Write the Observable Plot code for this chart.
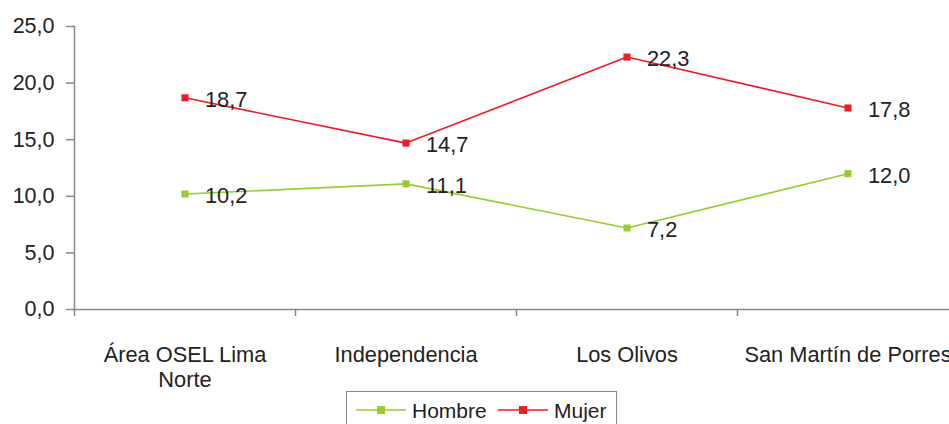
<!DOCTYPE html>
<html>
<head>
<meta charset="utf-8">
<script src="https://cdn.jsdelivr.net/npm/d3@7"></script>
<script src="https://cdn.jsdelivr.net/npm/@observablehq/plot@0.6"></script>
<style>
  html, body { margin: 0; padding: 0; background: #fff; overflow: hidden; width: 949px; height: 424px; }
  #chart svg { overflow: hidden; max-width: none; }
  #legend { position: absolute; left: 346px; top: 391px; width: 271px; height: 40px; border: 1px solid #888; box-sizing: border-box;
            font-family: "Liberation Sans", Arial, sans-serif; font-size: 21px; color: #222; }
</style>
</head>
<body>
<div id="chart"></div>
<div id="legend"></div>
<script>
const categories = ["Área OSEL Lima\nNorte", "Independencia", "Los Olivos", "San Martín de Porres"];
const series = ["Hombre", "Mujer"];
const colors = ["#99cc33", "#ee1c25"];
const hombre = [10.2, 11.1, 7.2, 12.0];
const mujer = [18.7, 14.7, 22.3, 17.8];
const yTicks = [0, 5, 10, 15, 20, 25];

const data = [];
categories.forEach((c, i) => {
  data.push({cat: c, serie: "Hombre", value: hombre[i]});
  data.push({cat: c, serie: "Mujer", value: mujer[i]});
});
const fmt = d => d.toFixed(1).replace(".", ",");
const font = "Liberation Sans, Arial, sans-serif";

const chart = Plot.plot({
  width: 949,
  height: 391,
  marginLeft: 74,
  marginRight: -9,
  marginTop: 26,
  marginBottom: 82,
  style: {fontFamily: font, fontSize: "21.5px", color: "#222", background: "#fff"},
  x: {type: "band", domain: categories, padding: 0, align: 0.5, label: null},
  y: {domain: [0, 25], label: null},
  color: {domain: series, range: colors},
  marks: [
    Plot.axisY({ticks: yTicks, tickFormat: fmt, tickSize: 8, tickPadding: 12, stroke: "#888", strokeWidth: 1.5, fill: "#222", fontSize: 21.5, label: null}),
    Plot.axisX({tickSize: 7, tickFormat: () => "", dx: -110.5, stroke: "#888", strokeWidth: 1.5, label: null}),
    Plot.axisX({tickSize: 0, tickPadding: 34, lineHeight: 1.17, fill: "#222", fontSize: 21.8, label: null}),
    Plot.ruleY([0], {stroke: "#888", strokeWidth: 1.5}),
    Plot.frame({anchor: "left", stroke: "#888", strokeWidth: 1.5}),
    Plot.line(data, {x: "cat", y: "value", z: "serie", stroke: "serie", strokeWidth: 1.6}),
    Plot.dot(data, {x: "cat", y: "value", fill: "serie", symbol: "square", r: 4}),
    Plot.text(data, {x: "cat", y: "value", text: d => fmt(d.value), textAnchor: "start", dx: 20, dy: 2, fill: "#222", fontSize: 21.8})
  ]
});
document.getElementById("chart").appendChild(chart);

// legend
const lg = d3.select("#legend").append("svg").attr("width", 271).attr("height", 40);
const xs = [[9, 65], [151, 207]];
series.forEach((s, i) => {
  const g = lg.append("g");
  g.append("line").attr("x1", xs[i][0]).attr("x2", xs[i][0] + 50).attr("y1", 18).attr("y2", 18)
    .attr("stroke", colors[i]).attr("stroke-width", 1.6);
  g.append("rect").attr("x", xs[i][0] + 25 - 4).attr("y", 14).attr("width", 8).attr("height", 8).attr("fill", colors[i]);
  g.append("text").attr("x", xs[i][1]).attr("y", 26).attr("font-family", font).attr("font-size", 21).attr("fill", "#222").text(s);
});
</script>
</body>
</html>
